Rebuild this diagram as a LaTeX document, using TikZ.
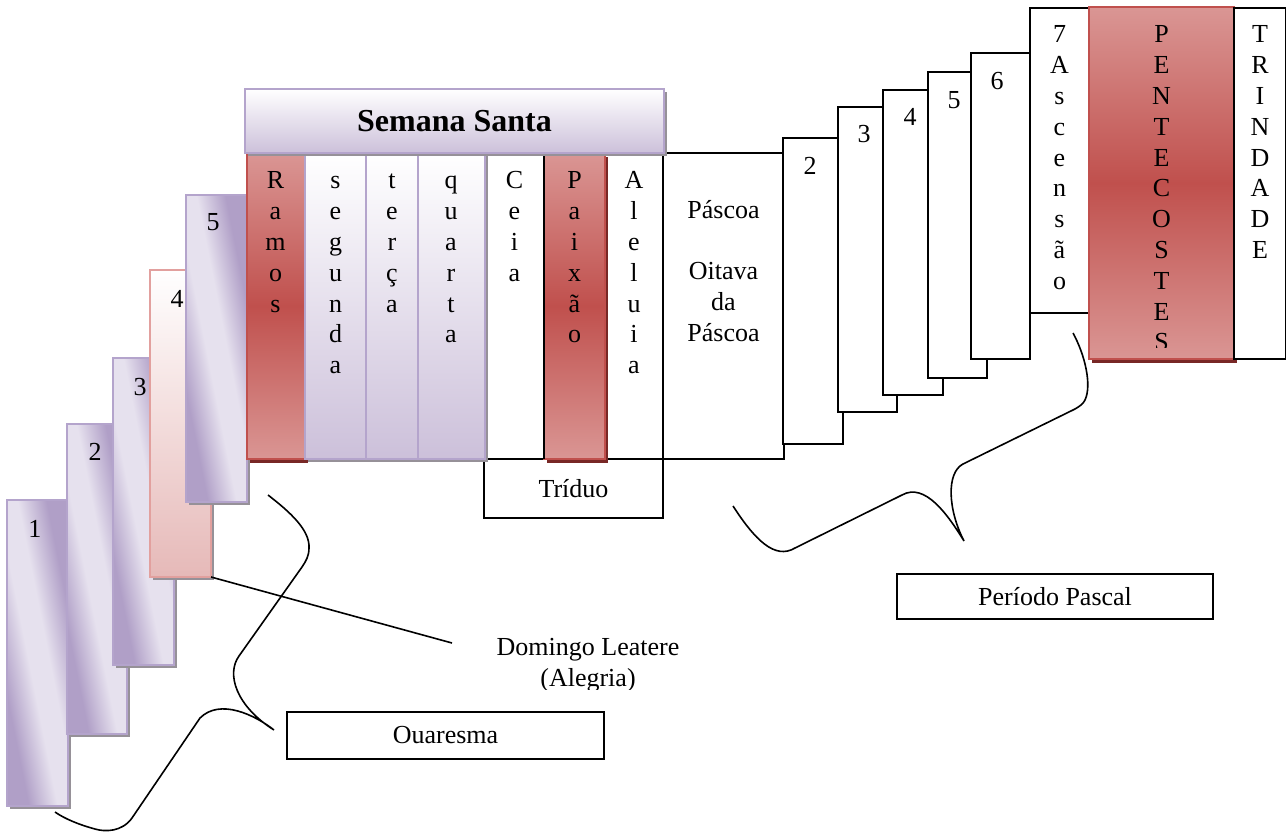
\documentclass[tikz,border=0pt]{standalone}
\usepackage{fontspec}
\setmainfont{Liberation Serif}
\usetikzlibrary{shadows}
\definecolor{lavD}{RGB}{176,159,199}
\definecolor{lavL}{RGB}{230,225,238}
\definecolor{lavB}{RGB}{180,164,204}
\definecolor{lavC}{RGB}{204,192,218}
\definecolor{redM}{RGB}{192,80,77}
\definecolor{redL}{RGB}{218,150,148}
\definecolor{redS}{RGB}{120,40,38}
\definecolor{pinkB}{RGB}{230,185,184}
\definecolor{pinkE}{RGB}{226,160,158}
\definecolor{shd}{RGB}{150,145,152}
\pgfdeclareverticalshading{lavsh}{100bp}{color(0bp)=(lavD); color(31bp)=(lavD); color(45bp)=(lavL); color(55bp)=(lavL); color(69bp)=(lavD); color(100bp)=(lavD)}
\newcommand{\mfs}{\fontsize{19.5}{23.1}\selectfont}
\newcommand{\mkbox}[7][]{\node[boxbase,#1,minimum width={(#5-#3)*0.75pt},minimum height={(#6-#4)*0.75pt}] (#2) at (#3,#4) {#7};}
\begin{document}
\begin{tikzpicture}[x=0.75pt,y=-0.75pt,
  boxbase/.style={anchor=north west, inner sep=0pt, outer sep=0pt, font=\mfs},
  blk/.style={draw=black, line width=1.3pt, fill=white},
  blkline/.style={draw=black, line width=1.3pt},
  grayshadow/.style={drop shadow={shadow xshift=2.4pt, shadow yshift=-2.4pt, fill=shd, opacity=1}},
  lavbox/.style={draw=lavB, line width=1.5pt, shading=lavsh, shading angle=-78.7, grayshadow},
  pinkbox/.style={draw=pinkE, line width=1.5pt, top color=white, bottom color=pinkB, grayshadow},
  lavcol/.style={draw=lavB, line width=1.5pt, top color=white, bottom color=lavC, grayshadow},
  redcol/.style={draw=redM, line width=1.5pt, top color=redL, bottom color=redL, middle color=redM,
    drop shadow={shadow xshift=2.4pt, shadow yshift=-3pt, fill=redS, opacity=1}},
  txt/.style={font=\mfs, inner sep=0pt},
  vtxt/.style={txt, anchor=north, align=center},
  brace/.style={draw=black, line width=1.2pt}
]
\useasboundingbox (0,0) rectangle (1287,832);

% left stack (Quaresma)
\mkbox[lavbox]{b1}{7}{500}{68}{806}{}
\mkbox[lavbox]{b2}{67}{424}{127}{734}{}
\mkbox[lavbox]{b3}{113}{358}{174}{665}{}
\mkbox[pinkbox]{b4}{150}{270}{211}{577}{}
\mkbox[lavbox]{b5}{186}{195}{247}{502}{}
\node[txt] (n1) at (35,529) {1};
\node[txt] (n2) at (95,452) {2};
\node[txt] (n3) at (140,387) {3};
\node[txt] (n4) at (177,299) {4};
\node[txt] (n5) at (213,222) {5};

% Triduo and Pascoa
\mkbox[blk]{ceia}{485}{153}{544}{459}{}
\mkbox[blk]{aleluia}{605}{153}{663}{459}{}
\mkbox[blk]{pascoa}{663}{153}{784}{459}{}
\mkbox[blk]{triduo}{484}{459}{663}{518}{Tríduo}
\mkbox[redcol]{paixao}{544}{153}{605}{459}{}
\draw[blkline] (paixao.north west) -- (paixao.south west);

% Semana Santa
\mkbox[redcol]{ramos}{247}{153}{305}{459}{}
\mkbox[lavcol]{seg}{305}{153}{366}{459}{}
\mkbox[lavcol]{ter}{366}{153}{418}{459}{}
\mkbox[lavcol]{qua}{418}{153}{485}{459}{}
\mkbox[lavcol,font=\bfseries\fontsize{24}{28}\selectfont]{ss}{245}{89}{664}{153}{Semana Santa}

\node[vtxt] (tramos) at (275.5,167) {\strut R\\a\\m\\o\\s};
\node[vtxt] (tseg) at (335.5,167) {\strut s\\e\\g\\u\\n\\d\\a};
\node[vtxt] (tter) at (392,167) {\strut t\\e\\r\\ç\\a};
\node[vtxt] (tqua) at (451,167) {\strut q\\u\\a\\r\\t\\a};
\node[vtxt] (tceia) at (514.5,167) {\strut C\\e\\i\\a};
\node[vtxt] (tpai) at (574.5,167) {\strut P\\a\\i\\x\\ã\\o};
\node[vtxt] (tale) at (634,167) {\strut A\\l\\e\\l\\u\\i\\a};
\node[vtxt] (tpas) at (723.5,196.5) {\strut Páscoa\\\strut\\Oitava\\da\\Páscoa};

% right stack (Periodo Pascal)
\mkbox[blk]{r2}{783}{138}{843}{444}{}
\mkbox[blk]{r3}{838}{107}{897}{412}{}
\mkbox[blk]{r4}{883}{90}{943}{395}{}
\mkbox[blk]{r5}{928}{72}{987}{378}{}
\mkbox[blk]{r6}{971}{53}{1030}{359}{}
\mkbox[blk]{r7}{1030}{8}{1089}{313}{}
\mkbox[redcol]{pent}{1089}{7}{1234}{359}{}
\mkbox[blk]{trin}{1234}{8}{1285.5}{359}{}
\node[txt] (m2) at (810,166) {2};
\node[txt] (m3) at (864,134) {3};
\node[txt] (m4) at (910,117) {4};
\node[txt] (m5) at (954,100) {5};
\node[txt] (m6) at (997,81) {6};
\node[vtxt] (tr7) at (1059.5,21) {\strut 7\\A\\s\\c\\e\\n\\s\\ã\\o};
\begin{scope}
\clip (1089,7) rectangle (1234,347);
\node[vtxt] (tpent) at (1161.5,21) {\strut P\\E\\N\\T\\E\\C\\O\\S\\T\\E\\S};
\end{scope}
\node[vtxt] (ttrin) at (1260,21) {\strut T\\R\\I\\N\\D\\A\\D\\E};

% labels
\mkbox[blk]{quar}{287}{712}{604}{759}{Ouaresma}
\mkbox[blk]{pp}{897}{574}{1213}{619}{Período Pascal}
\begin{scope}
\clip (440,600) rectangle (740,689);
\node[vtxt] (dom) at (588,633.5) {\strut Domingo Leatere\\(Alegria)};
\end{scope}
\coordinate (domE) at (452,643);
\draw[brace] (b4.south east) -- (domE);

% Quaresma brace
\coordinate (qa) at (268,495);
\coordinate (qtip) at (274,730);
\coordinate (qb) at (55,812);
\draw[brace] (qa) .. controls (290,512) and (310,530) .. (309,548)
  .. controls (309,556) and (306,561) .. (302,567) -- (239,656)
  .. controls (226,674) and (236,706) .. (qtip)
  .. controls (255,715) and (220,698) .. (200,718) -- (132,818)
  .. controls (122,832) and (105,832) .. (95,829)
  .. controls (80,825) and (65,819) .. (qb);

% Periodo Pascal brace
\coordinate (pa) at (1073,333);
\coordinate (ptip) at (964,541);
\coordinate (pb) at (733,506);
\draw[brace] (pa) .. controls (1085,355) and (1092,385) .. (1085,400)
  .. controls (1083,404) and (1080,406) .. (1075,409) -- (963,464)
  .. controls (946,473) and (948,510) .. (ptip)
  .. controls (948,515) and (925,482) .. (902,495) -- (795,548)
  .. controls (775,560) and (755,540) .. (pb);
\end{tikzpicture}
\end{document}
